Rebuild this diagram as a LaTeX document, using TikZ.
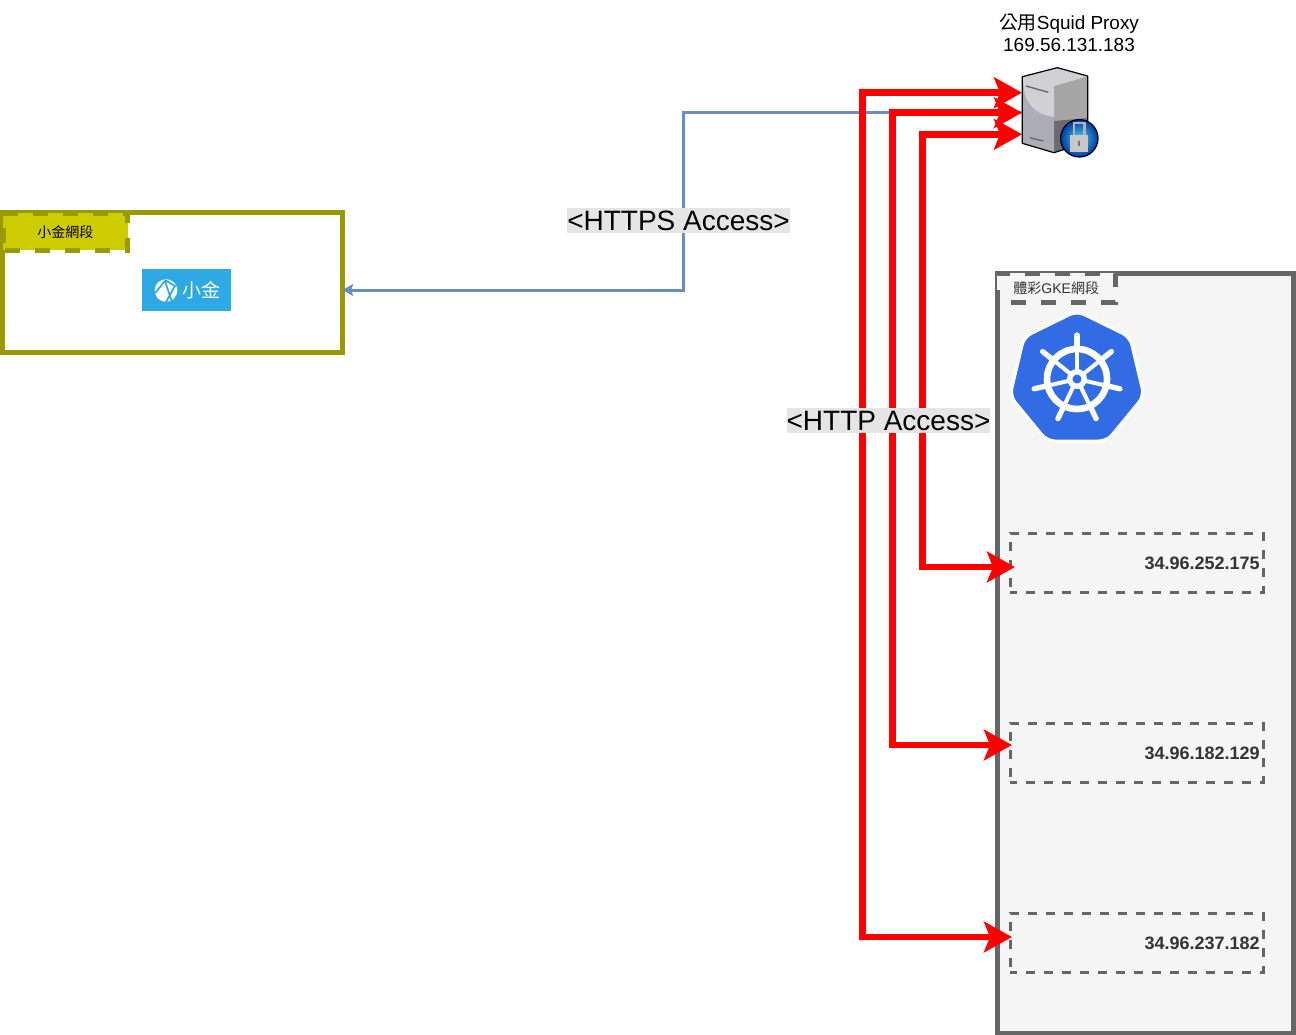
\documentclass[tikz,border=0pt]{standalone}
\usepackage{fontspec}
\usepackage{amsmath}
\setmainfont{Liberation Sans}
\newfontfamily\cjkfont{Noto Sans CJK TC}
\usetikzlibrary{arrows.meta}
\definecolor{oliveline}{HTML}{999900}
\definecolor{olivefill}{HTML}{CCCC00}
\definecolor{greyline}{HTML}{666666}
\definecolor{greyfill}{HTML}{F5F5F5}
\definecolor{greytext}{HTML}{333333}
\definecolor{blueline}{HTML}{6C8EBF}
\definecolor{logoblue}{HTML}{2FA9E3}
\definecolor{kubeblue}{HTML}{326CE5}

\begin{document}
\begin{tikzpicture}[x=0.75pt,y=-0.75pt,>=latex]

    \tikzstyle{zone} = [draw, line width=3.75pt, inner sep=0pt, outer sep=0pt, anchor=north west];
    \tikzstyle{tab} = [draw, line width=3.75pt, dash pattern=on 11.25pt off 11.25pt, inner sep=0pt, outer sep=0pt, anchor=north west, font=\fontsize{10.5pt}{12pt}\selectfont];
    \tikzstyle{ipbox} = [draw=greyline, line width=2.25pt, dash pattern=on 6.75pt off 6.75pt, dash phase=1.5pt, minimum width=189.75pt, minimum height=44.25pt, inner sep=0pt, outer sep=0pt, anchor=north west];
    \tikzstyle{iplabel} = [font=\bfseries\fontsize{13.5pt}{15pt}\selectfont, text=greytext, anchor=east, inner sep=0pt];
    \tikzstyle{accesslabel} = [fill=black!10, font=\fontsize{21pt}{24pt}\selectfont, inner sep=0pt, text height=17pt, text depth=1.75pt];
    \tikzstyle{redlink} = [draw=red, line width=5pt, {Stealth[length=21pt,width=23pt,inset=4.5pt]}-{Stealth[length=21pt,width=23pt,inset=4.5pt]}];

    \useasboundingbox (0,0) rectangle (1296,1035);

    % network zones
    \node[zone, draw=oliveline, fill=white, minimum width=255pt, minimum height=105pt] (xiaojin) at (2.5,212.5) {};
    \node[tab, draw=oliveline, fill=olivefill, dash phase=21pt, minimum width=93.4pt, minimum height=28.1pt] (xiaojintab) at (3,213) {\cjkfont 小金網段};
    \node[zone, draw=greyline, fill=greyfill, minimum width=222pt, minimum height=570pt] (gke) at (997,273) {};
    \node[tab, draw=greyline, fill=greyfill, text=greytext, dash phase=12pt, minimum width=88.9pt, minimum height=22.1pt] (gketab) at (997,273) {{\cjkfont 體彩}GKE{\cjkfont 網段}};

    % small logo
    \node[fill=logoblue, minimum width=66.75pt, minimum height=31.5pt, inner sep=0pt] (logo) at (186.5,290) {};
    \fill[white] (166,290.5) circle (8.5pt);
    \draw[logoblue, line width=1.3pt] (155,293) -- (165,281) -- (172,302) (165,280) -- (175,286) -- (166,302);
    \node[text=white, font=\cjkfont\fontsize{14.25pt}{16pt}\selectfont, inner sep=0pt] (logotext) at (201,290.5) {小金};

    % kubernetes logo
    \coordinate (kube) at (1077,379);
    \draw[white, fill=kubeblue, line width=2.25pt, rounded corners=6pt]
        (1077,311) -- (1130,337) -- (1144,396) -- (1107,441) -- (1047,441) -- (1010,396) -- (1024,337) -- cycle;
    \draw[white, line width=5pt] (kube) circle (22.5pt);
    \foreach \a in {90,141.43,192.86,244.29,295.71,347.14,398.57} {
        \draw[white, line width=3pt] (kube) -- ++(\a:26pt);
        \draw[white, line width=4pt, line cap=round] (kube) ++(\a:24pt) -- ++(\a:9pt);
    }
    \fill[white] (kube) circle (7.5pt);
    \fill[kubeblue] (kube) circle (3.4pt);

    % squid server
    \node[minimum width=49.5pt, minimum height=64.5pt, inner sep=0pt] (squid) at (1055,110) {};
    \node[align=center, inner sep=0pt, font=\fontsize{14.2pt}{16.5pt}\selectfont] (squidlabel) at (1069,33) {{\cjkfont 公用}Squid Proxy\\169.56.131.183};
    \fill[black!35] (1054,86) -- (1087.7,76) -- (1087.7,142) -- (1054,152.7) -- cycle;
    \fill[black!58] (1054,121) -- (1087.7,118) -- (1087.7,142) -- (1054,152.7) -- cycle;
    \fill[blue!12!black!32] (1022.3,76.7) -- (1054,86) -- (1054,152.7) -- (1022.3,143.3) -- cycle;
    \fill[blue!8!black!18] (1022.3,76.7) -- (1057.3,67.7) -- (1087.7,76) -- (1054,86) -- (1054,117) .. controls (1036,114) and (1025,105) .. (1023.5,85) -- cycle;
    \draw[black, line width=0.9pt, line join=round] (1022.3,76.7) -- (1057.3,67.7) -- (1087.7,76) -- (1087.7,142) -- (1054,152.7) -- (1022.3,143.3) -- cycle;
    \draw[black!60, line width=1pt] (1026,86) -- (1048.3,92.3) (1030,137.7) -- (1043.3,141);
    \shade[inner color=cyan!70!blue!70, outer color=blue!60!cyan!60!black] (1079.3,138.3) circle (14pt);
    \draw[black!80!blue, line width=1pt] (1079.3,138.3) circle (14pt);
    \draw[black!30, line width=2pt] (1074,136) -- (1074,123) -- (1084.5,123) -- (1084.5,136);
    \fill[black!22] (1070,135) rectangle (1088.3,151.5);
    \fill[black!55] (1078,141) rectangle (1080,146);

    % connection points
    \coordinate (sq1) at (1022,92.7);
    \coordinate (sq2) at (1022,112.7);
    \coordinate (sq3) at (1022,134.3);
    \coordinate (in1) at (1015,567);
    \coordinate (in2) at (1012,745);
    \coordinate (in3) at (1012,937);

    % ip boxes
    \node[ipbox] (ip1) at (1010,533) {};
    \node[ipbox] (ip2) at (1010,723) {};
    \node[ipbox] (ip3) at (1010,913) {};
    \node[iplabel] (ip1label) at (1260,563) {34.96.252.175};
    \node[iplabel] (ip2label) at (1260,753) {34.96.182.129};
    \node[iplabel] (ip3label) at (1260,943) {34.96.237.182};

    % links
    \draw[blueline, line width=2.25pt, ->, >={Stealth[length=8pt,width=9pt,inset=1.5pt]}] (sq2) -- ++(-339,0) |- (xiaojin.east |- logo);
    \draw[redlink] (sq1) -- ++(-159.7,0) |- (in3);
    \draw[redlink] (sq2) -- ++(-129.7,0) |- (in2);
    \draw[redlink] (sq3) -- ++(-99.7,0) |- (in1);

    \node[accesslabel] (https) at (678.5,220.5) {<HTTPS Access>};
    \node[accesslabel] (http) at (888.5,420.5) {<HTTP Access>};

\end{tikzpicture}
\end{document}
